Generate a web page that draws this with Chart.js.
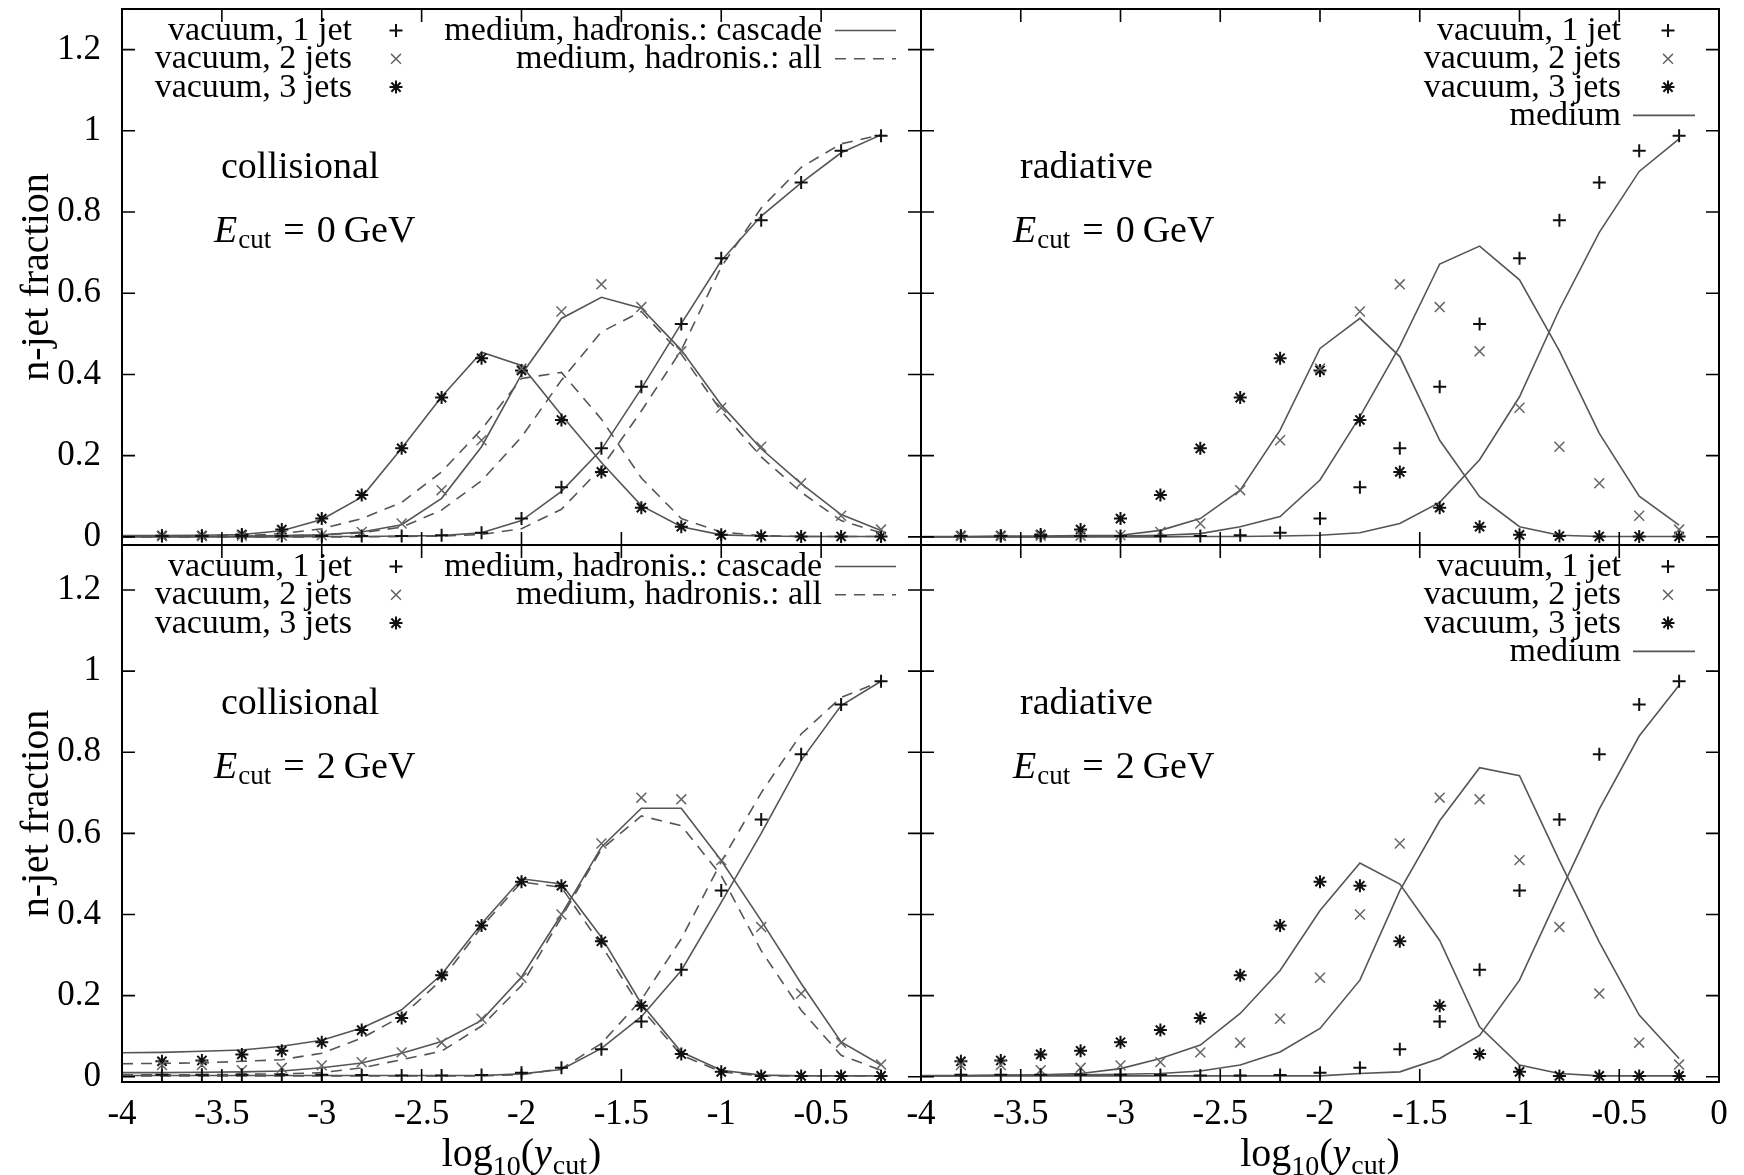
<!DOCTYPE html>
<html>
<head>
<meta charset="utf-8">
<script src="https://cdn.jsdelivr.net/npm/chart.js@4/dist/chart.umd.min.js"></script>
<style>
  body { margin: 0; background: #fff; }
  #wrap { position: relative; width: 1744px; height: 1175px; }
  #wrap canvas { position: absolute; left: 0; top: 0; }
</style>
</head>
<body>
<div id="wrap">
  <canvas id="tl" width="1744" height="1175"></canvas>
  <canvas id="tr" width="1744" height="1175"></canvas>
  <canvas id="bl" width="1744" height="1175"></canvas>
  <canvas id="br" width="1744" height="1175"></canvas>
</div>
<script>
// log10(y_cut) sample points
var xVac = [-3.8, -3.6, -3.4, -3.2, -3.0, -2.8, -2.6, -2.4, -2.2, -2.0, -1.8, -1.6, -1.4, -1.2, -1.0, -0.8, -0.6, -0.4, -0.2];
var xMed = [-4.0, -3.8, -3.6, -3.4, -3.2, -3.0, -2.8, -2.6, -2.4, -2.2, -2.0, -1.8, -1.6, -1.4, -1.2, -1.0, -0.8, -0.6, -0.4, -0.2];

var xTicks = [-4, -3.5, -3, -2.5, -2, -1.5, -1, -0.5, 0];
var xTickLabels = ["-4", "-3.5", "-3", "-2.5", "-2", "-1.5", "-1", "-0.5", "0"];
var yTicks = [0, 0.2, 0.4, 0.6, 0.8, 1, 1.2];
var yTickLabels = ["0", "0.2", "0.4", "0.6", "0.8", "1", "1.2"];

// E_cut = 0 GeV, vacuum
var vac0Jet1 = [0.002, 0.002, 0.002, 0.002, 0.002, 0.002, 0.002, 0.004, 0.01, 0.045, 0.122, 0.218, 0.37, 0.524, 0.686, 0.78, 0.873, 0.951, 0.988];
var vac0Jet2 = [0.002, 0.002, 0.003, 0.003, 0.004, 0.012, 0.033, 0.115, 0.238, 0.415, 0.555, 0.622, 0.566, 0.457, 0.318, 0.222, 0.132, 0.052, 0.018];
var vac0Jet3 = [0.003, 0.003, 0.006, 0.018, 0.045, 0.103, 0.218, 0.343, 0.44, 0.41, 0.288, 0.16, 0.072, 0.025, 0.005, 0.002, 0.001, 0.001, 0.001];

// E_cut = 0 GeV, collisional medium: hadronisation cascade (solid) and all (dashed)
var col0Cas1 = [0, 0, 0, 0, 0, 0.001, 0.001, 0.002, 0.003, 0.01, 0.04, 0.112, 0.215, 0.365, 0.525, 0.68, 0.79, 0.872, 0.946, 0.99];
var col0Cas2 = [0.001, 0.001, 0.001, 0.002, 0.003, 0.005, 0.012, 0.03, 0.095, 0.222, 0.40, 0.538, 0.59, 0.563, 0.46, 0.325, 0.217, 0.131, 0.055, 0.016];
var col0Cas3 = [0.003, 0.003, 0.004, 0.006, 0.015, 0.043, 0.098, 0.218, 0.345, 0.455, 0.422, 0.30, 0.183, 0.077, 0.025, 0.005, 0.002, 0.001, 0.001, 0.001];
var col0All1 = [0, 0, 0, 0, 0, 0, 0, 0.001, 0.002, 0.006, 0.02, 0.068, 0.17, 0.31, 0.46, 0.665, 0.81, 0.91, 0.968, 0.99];
var col0All2 = [0.001, 0.001, 0.001, 0.002, 0.003, 0.005, 0.01, 0.024, 0.066, 0.138, 0.246, 0.386, 0.505, 0.555, 0.45, 0.31, 0.197, 0.11, 0.04, 0.01];
var col0All3 = [0.002, 0.002, 0.002, 0.003, 0.008, 0.02, 0.045, 0.085, 0.16, 0.265, 0.39, 0.405, 0.29, 0.145, 0.045, 0.012, 0.003, 0.001, 0.001, 0.001];

// E_cut = 0 GeV, radiative medium
var rad0Med1 = [0, 0, 0, 0, 0, 0, 0, 0.001, 0.001, 0.002, 0.004, 0.01, 0.033, 0.085, 0.19, 0.345, 0.56, 0.75, 0.9, 0.98];
var rad0Med2 = [0, 0, 0, 0, 0.001, 0.002, 0.004, 0.008, 0.025, 0.05, 0.14, 0.296, 0.47, 0.672, 0.716, 0.633, 0.458, 0.255, 0.1, 0.029];
var rad0Med3 = [0.001, 0.001, 0.002, 0.002, 0.003, 0.004, 0.016, 0.045, 0.115, 0.263, 0.464, 0.538, 0.444, 0.238, 0.099, 0.025, 0.004, 0.001, 0.001, 0.001];

// E_cut = 2 GeV, vacuum
var vac2Jet1 = [0.005, 0.005, 0.005, 0.005, 0.005, 0.004, 0.003, 0.003, 0.004, 0.01, 0.022, 0.068, 0.136, 0.264, 0.459, 0.634, 0.795, 0.918, 0.975];
var vac2Jet2 = [0.029, 0.029, 0.016, 0.022, 0.028, 0.036, 0.06, 0.084, 0.143, 0.244, 0.40, 0.575, 0.688, 0.684, 0.534, 0.369, 0.205, 0.084, 0.03];
var vac2Jet3 = [0.038, 0.04, 0.055, 0.064, 0.085, 0.115, 0.145, 0.25, 0.373, 0.481, 0.471, 0.334, 0.175, 0.056, 0.012, 0.002, 0.002, 0.002, 0.002];

// E_cut = 2 GeV, collisional medium
var col2Cas1 = [0.003, 0.003, 0.003, 0.003, 0.003, 0.003, 0.003, 0.003, 0.003, 0.003, 0.007, 0.018, 0.07, 0.148, 0.262, 0.43, 0.6, 0.78, 0.915, 0.975];
var col2Cas2 = [0.01, 0.01, 0.011, 0.012, 0.014, 0.022, 0.034, 0.058, 0.087, 0.139, 0.246, 0.40, 0.566, 0.662, 0.662, 0.533, 0.385, 0.23, 0.086, 0.029];
var col2Cas3 = [0.059, 0.06, 0.063, 0.066, 0.075, 0.09, 0.12, 0.165, 0.252, 0.377, 0.488, 0.475, 0.344, 0.18, 0.061, 0.016, 0.004, 0.002, 0.002, 0.002];
var col2All1 = [0.002, 0.002, 0.002, 0.002, 0.002, 0.002, 0.002, 0.002, 0.002, 0.002, 0.005, 0.02, 0.082, 0.19, 0.34, 0.53, 0.70, 0.845, 0.935, 0.975];
var col2All2 = [0.005, 0.005, 0.005, 0.006, 0.007, 0.01, 0.022, 0.042, 0.063, 0.125, 0.225, 0.393, 0.561, 0.643, 0.619, 0.496, 0.311, 0.164, 0.053, 0.016];
var col2All3 = [0.032, 0.033, 0.034, 0.038, 0.042, 0.058, 0.095, 0.149, 0.239, 0.369, 0.48, 0.467, 0.324, 0.168, 0.053, 0.012, 0.002, 0.002, 0.002, 0.002];

// E_cut = 2 GeV, radiative medium
var rad2Med1 = [0.002, 0.002, 0.002, 0.002, 0.002, 0.002, 0.002, 0.002, 0.002, 0.002, 0.002, 0.008, 0.012, 0.045, 0.102, 0.238, 0.451, 0.66, 0.84, 0.965];
var rad2Med2 = [0.002, 0.002, 0.003, 0.004, 0.005, 0.006, 0.008, 0.014, 0.029, 0.061, 0.119, 0.238, 0.459, 0.631, 0.762, 0.742, 0.533, 0.332, 0.152, 0.045];
var rad2Med3 = [0.003, 0.003, 0.004, 0.005, 0.008, 0.02, 0.045, 0.078, 0.156, 0.262, 0.41, 0.527, 0.475, 0.336, 0.123, 0.029, 0.008, 0.002, 0.002, 0.002];

var vacLabels = ["vacuum, 1 jet", "vacuum, 2 jets", "vacuum, 3 jets"];
var markStyles = ["cross", "crossRot", "star"];

var FONT = '"Liberation Serif", "DejaVu Serif", serif';
var LINE = "#555";
var DASH = [11, 8];

function pts(xs, ys) {
  return xs.map(function (x, i) { return { x: x, y: ys[i] }; });
}

function setFont(ctx, size, style) {
  ctx.font = (style ? style + " " : "") + size + "px " + FONT;
}

function drawMark(ctx, style, x, y) {
  var r = style == "crossRot" ? 7 : 6.5;
  var d = r * Math.SQRT1_2;
  ctx.beginPath();
  if (style != "crossRot") {
    ctx.moveTo(x - r, y); ctx.lineTo(x + r, y);
    ctx.moveTo(x, y - r); ctx.lineTo(x, y + r);
  }
  if (style != "cross") {
    ctx.moveTo(x - d, y - d); ctx.lineTo(x + d, y + d);
    ctx.moveTo(x - d, y + d); ctx.lineTo(x + d, y - d);
  }
  ctx.strokeStyle = style == "crossRot" ? "#666" : "#111";
  ctx.lineWidth = style == "crossRot" ? 1.5 : 2;
  ctx.setLineDash([]);
  ctx.stroke();
}

function drawSample(ctx, x1, x2, y, dashed) {
  ctx.beginPath();
  ctx.moveTo(x1, y); ctx.lineTo(x2, y);
  ctx.strokeStyle = LINE;
  ctx.lineWidth = 1.6;
  ctx.setLineDash(dashed ? DASH : []);
  ctx.stroke();
  ctx.setLineDash([]);
}

// draws pieces [text, size, style, baselineShift, gapAfter] one after another
function drawPieces(ctx, pieces, x, y) {
  pieces.forEach(function (pc) {
    setFont(ctx, pc[1], pc[2]);
    ctx.fillText(pc[0], x, y + (pc[3] || 0));
    x += ctx.measureText(pc[0]).width + (pc[4] || 0);
  });
}

function piecesWidth(ctx, pieces) {
  var w = 0;
  pieces.forEach(function (pc) {
    setFont(ctx, pc[1], pc[2]);
    w += ctx.measureText(pc[0]).width + (pc[4] || 0);
  });
  return w;
}

var gnuplotLook = {
  id: "gnuplotLook",
  afterDraw: function (chart, args, opts) {
    var p = opts.panel;
    var ctx = chart.ctx, a = chart.chartArea;
    var xs = chart.scales.x, ys = chart.scales.y;
    var t = 13;
    ctx.save();

    // frame and inward ticks
    ctx.strokeStyle = "#000";
    ctx.lineWidth = 2;
    ctx.strokeRect(a.left, a.top, a.right - a.left, a.bottom - a.top);
    ctx.lineWidth = 1.6;
    ctx.beginPath();
    xTicks.forEach(function (v) {
      var px = xs.getPixelForValue(v);
      ctx.moveTo(px, a.bottom); ctx.lineTo(px, a.bottom - t);
      ctx.moveTo(px, a.top); ctx.lineTo(px, a.top + t);
    });
    yTicks.forEach(function (v) {
      var py = ys.getPixelForValue(v);
      ctx.moveTo(a.left, py); ctx.lineTo(a.left + t, py);
      ctx.moveTo(a.right, py); ctx.lineTo(a.right - t, py);
    });
    ctx.stroke();

    ctx.fillStyle = "#000";
    ctx.textBaseline = "alphabetic";

    // key
    var rowH = 28.3, base0 = a.top + 31;
    if (p.kind == "coll") {
      vacLabels.forEach(function (s, i) {
        var by = base0 + i * rowH;
        setFont(ctx, 34);
        ctx.textAlign = "right";
        ctx.fillText(s, a.left + 230, by);
        drawMark(ctx, markStyles[i], a.left + 274, by - 9.5);
      });
      ["medium, hadronis.: cascade", "medium, hadronis.: all"].forEach(function (s, i) {
        var by = base0 + i * rowH;
        setFont(ctx, 34);
        ctx.textAlign = "right";
        ctx.fillText(s, a.left + 700, by);
        drawSample(ctx, a.left + 713, a.left + 774, by - 9.5, i == 1);
      });
    } else {
      vacLabels.concat(["medium"]).forEach(function (s, i) {
        var by = base0 + i * rowH;
        setFont(ctx, 34);
        ctx.textAlign = "right";
        ctx.fillText(s, a.right - 98, by);
        if (i < 3) drawMark(ctx, markStyles[i], a.right - 51, by - 9.5);
        else drawSample(ctx, a.right - 86, a.right - 24, by - 9.5, false);
      });
    }

    // panel annotations
    ctx.textAlign = "left";
    setFont(ctx, 38);
    ctx.fillText(p.kind == "coll" ? "collisional" : "radiative", a.left + 99, a.top + 169);
    drawPieces(ctx, [
      ["E", 38, "italic", 0, 1],
      ["cut", 27, "", 6, 12],
      ["=", 38, "", 0, 12],
      [p.ecut, 38, "", 0, 8],
      ["GeV", 38, "", 0, 0]
    ], a.left + 92, a.top + 233);

    // axis titles
    if (p.yTitle) {
      ctx.save();
      ctx.translate(a.left - 74, (a.top + a.bottom) / 2);
      ctx.rotate(-Math.PI / 2);
      ctx.textAlign = "center";
      setFont(ctx, 40);
      ctx.fillText("n-jet fraction", 0, 0);
      ctx.restore();
    }
    if (p.xTitle) {
      var pieces = [
        ["log", 40, "", 0, 0],
        ["10", 28, "", 9, 0],
        ["(", 40, "", 0, 0],
        ["y", 40, "italic", 0, 1],
        ["cut", 28, "", 8, 1],
        [")", 40, "", 0, 0]
      ];
      ctx.textAlign = "left";
      var w = piecesWidth(ctx, pieces);
      drawPieces(ctx, pieces, (a.left + a.right) / 2 - w / 2, 1166);
    }
    ctx.restore();
  }
};

function vacSets(v) {
  return [
    { data: pts(xVac, v[0]), showLine: false, pointStyle: "cross", pointRadius: 6.5, pointBorderWidth: 2, pointBorderColor: "#111", pointBackgroundColor: "#111" },
    { data: pts(xVac, v[1]), showLine: false, pointStyle: "crossRot", pointRadius: 7, pointBorderWidth: 1.5, pointBorderColor: "#666", pointBackgroundColor: "#666" },
    { data: pts(xVac, v[2]), showLine: false, pointStyle: "star", pointRadius: 6.5, pointBorderWidth: 2, pointBorderColor: "#111", pointBackgroundColor: "#111" }
  ];
}

function medSet(ys, dashed) {
  return {
    data: pts(xMed, ys), borderColor: LINE, borderWidth: 1.6, borderDash: dashed ? DASH : [],
    pointRadius: 0, tension: 0, fill: false
  };
}

function noPad(s) {
  s.paddingTop = 0; s.paddingBottom = 0; s.paddingLeft = 0; s.paddingRight = 0;
}

function makePanel(p) {
  var sets = vacSets(p.vac);
  p.solid.forEach(function (ys) { sets.push(medSet(ys, false)); });
  (p.dashed || []).forEach(function (ys) { sets.push(medSet(ys, true)); });

  var isLeft = p.left < 200, isBottom = p.top > 300;
  var xAxisH = isBottom ? 60 : 0;

  new Chart(document.getElementById(p.id), {
    type: "line",
    data: { datasets: sets },
    plugins: [gnuplotLook],
    options: {
      responsive: false,
      animation: false,
      devicePixelRatio: 1,
      layout: {
        padding: {
          left: isLeft ? 0 : p.left,
          top: p.top,
          right: 1744 - p.right,
          bottom: 1175 - p.bottom - xAxisH
        }
      },
      plugins: {
        legend: { display: false },
        tooltip: { enabled: false },
        gnuplotLook: { panel: p }
      },
      scales: {
        x: {
          type: "linear",
          min: -4, max: 0,
          grid: { display: false },
          border: { display: false },
          afterBuildTicks: function (s) { s.ticks = xTicks.map(function (v) { return { value: v }; }); },
          afterFit: function (s) { s.height = xAxisH; noPad(s); },
          ticks: {
            display: isBottom,
            autoSkip: false,
            maxRotation: 0,
            padding: 4,
            color: "#000",
            font: { family: FONT, size: 35 },
            callback: function (v, i) { return (isLeft && i == xTicks.length - 1) ? "" : xTickLabels[i]; }
          }
        },
        y: {
          type: "linear",
          min: p.yMin, max: p.yMax,
          grid: { display: false },
          border: { display: false },
          afterBuildTicks: function (s) { s.ticks = yTicks.map(function (v) { return { value: v }; }); },
          afterFit: function (s) { s.width = isLeft ? p.left : 0; noPad(s); },
          ticks: {
            display: isLeft,
            padding: 13,
            color: "#000",
            font: { family: FONT, size: 35 },
            callback: function (v, i) { return yTickLabels[i]; }
          }
        }
      }
    }
  });
}

var panels = [
  { id: "tl", left: 122, right: 921, top: 9, bottom: 545, yMin: -0.02, yMax: 1.3, kind: "coll", ecut: "0",
    yTitle: true, xTitle: false, vac: [vac0Jet1, vac0Jet2, vac0Jet3],
    solid: [col0Cas1, col0Cas2, col0Cas3], dashed: [col0All1, col0All2, col0All3] },
  { id: "tr", left: 921, right: 1719, top: 9, bottom: 545, yMin: -0.02, yMax: 1.3, kind: "rad", ecut: "0",
    yTitle: false, xTitle: false, vac: [vac0Jet1, vac0Jet2, vac0Jet3],
    solid: [rad0Med1, rad0Med2, rad0Med3] },
  { id: "bl", left: 122, right: 921, top: 545, bottom: 1082, yMin: -0.013, yMax: 1.311, kind: "coll", ecut: "2",
    yTitle: true, xTitle: true, vac: [vac2Jet1, vac2Jet2, vac2Jet3],
    solid: [col2Cas1, col2Cas2, col2Cas3], dashed: [col2All1, col2All2, col2All3] },
  { id: "br", left: 921, right: 1719, top: 545, bottom: 1082, yMin: -0.013, yMax: 1.311, kind: "rad", ecut: "2",
    yTitle: false, xTitle: true, vac: [vac2Jet1, vac2Jet2, vac2Jet3],
    solid: [rad2Med1, rad2Med2, rad2Med3] }
];

panels.forEach(makePanel);
</script>
</body>
</html>
